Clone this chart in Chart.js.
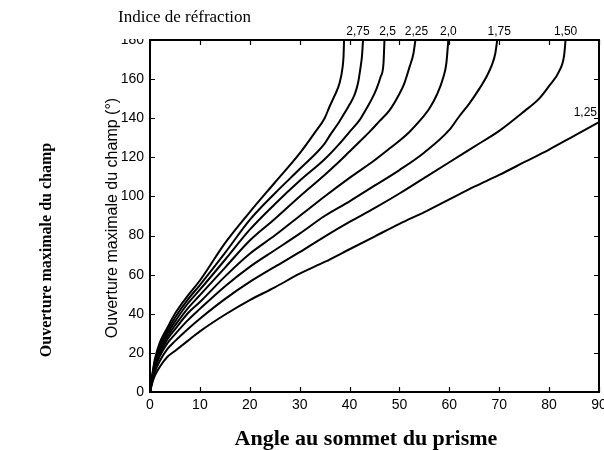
<!DOCTYPE html>
<html>
<head>
<meta charset="utf-8">
<script src="https://cdn.jsdelivr.net/npm/chart.js@4.4.1/dist/chart.umd.min.js"></script>
<style>
  html, body { margin: 0; padding: 0; background: #fff; }
</style>
</head>
<body>
<canvas id="chart" width="604" height="450"></canvas>
<script>
// ===== 数据：各折射率曲线 [顶角(°), 最大视场(°)] =====
const curveN300 = [[0,0],[0.5,9.5],[1,17],[2,25.5],[3.5,33],[5,40],[7.5,49],[10,57],[15,76],[20,92],[25,107],[30,122],[33,132.5],[35,140],[36,146],[37,151.5],[38,158],[38.6,166],[38.8,172],[38.9,180]];
const curveN275 = [[0,0],[0.5,9],[1,16],[2,24],[3.5,31.5],[5,38],[7.5,47],[10,54.7],[15,71],[20,88],[25,101.5],[30,114],[35,127],[36,131],[37.5,136.5],[38,138.5],[40,147],[41,152],[41.7,158],[42.2,166],[42.5,172],[42.7,180]];
const curveN250 = [[0,0],[0.5,8.5],[1,15],[2,22.5],[3.5,30],[5,36],[7.5,45],[10,52.3],[15,67.5],[20,83],[25,96],[30,108],[35,119],[38,127],[40,133],[42,139],[43.4,145],[44.5,150],[45.4,155],[46.2,161],[46.8,168],[47,180]];
const curveN225 = [[0,0],[0.5,8],[1,14],[2,21],[3.5,28.5],[5,34],[7.5,42.5],[10,49.5],[15,63.5],[20,77.5],[25,88.5],[30,100],[35,111],[38,118],[40,123],[42,128],[44,133],[46,138.5],[48,144],[50,152.5],[51,158],[52,166],[52.8,173],[53.2,180]];
const curveN200 = [[0,0],[0.5,7.5],[1,13],[2,20],[3.5,27],[5,32],[7.5,40],[10,46],[15,59],[20,70.7],[25,80],[30,90],[35,100],[40,109.5],[45,118.5],[48,124.5],[50,128.5],[52,133],[54,138.5],[56,145],[57.5,152],[58.8,161],[59.4,168],[59.8,180]];
const curveN175 = [[0,0],[0.5,7],[1,12],[2,18.5],[3.5,25],[5,29.5],[7.5,36.5],[10,42.5],[15,54],[20,64],[25,72.5],[30,81],[35,90],[40,97.5],[45,105.5],[50,113.5],[55,122.5],[60,134],[62,141],[64,147.5],[66,155],[67.5,161.5],[68.5,167],[69.2,173],[69.6,180]];
const curveN150 = [[0,0],[0.5,6],[1,10.5],[2,16],[3.5,22],[5,26],[7.5,32],[10,37.5],[15,47.5],[20,56.3],[25,64],[30,71.5],[35,79.5],[40,87],[45,94],[50,101.5],[55,109.5],[60,117.5],[65,125.5],[70,133.5],[75,143.5],[78,150],[80,156.5],[82,164],[83,172],[83.3,180]];
const curveN125 = [[0,0],[0.5,5],[1,8.5],[2,13],[3.5,18],[5,21],[7.5,26],[10,31],[15,39.5],[20,47],[25,53.5],[30,60.5],[35,66.5],[40,73],[45,79.5],[50,86],[55,92],[60,98.5],[65,105],[70,111],[75,117.5],[80,124],[85,131],[90,138]];

const curves = [curveN300, curveN275, curveN250, curveN225, curveN200, curveN175, curveN150, curveN125];
const curveLabels = ['', '2,75', '2,5', '2,25', '2,0', '1,75', '1,50', '1,25'];

const X_TICKS = [0, 10, 20, 30, 40, 50, 60, 70, 80, 90];
const Y_TICKS = [0, 20, 40, 60, 80, 100, 120, 140, 160, 180];

// 顶部标注的水平微调（像素），避免 2,75 / 2,5 相互重叠
const LABEL_DX = [0, -5, 3, 1, 0, 2, 0, 0];

const SANS = "'Liberation Sans', Arial, sans-serif";
const SERIF = "'Liberation Serif', 'Times New Roman', serif";

// 边框、朝内刻度、曲线标注与标题
const decorPlugin = {
    id: 'decor',
    afterDraw(chart) {
        const { ctx, chartArea: a, scales: { x, y } } = chart;
        ctx.save();
        // 遮住 180 标签上半部分（原图被裁切）
        ctx.fillStyle = '#fff';
        ctx.fillRect(110, 24, 38, 15);

        ctx.strokeStyle = '#000';
        ctx.lineWidth = 2;
        ctx.strokeRect(a.left, a.top, a.right - a.left, a.bottom - a.top);

        ctx.lineWidth = 1.2;
        ctx.beginPath();
        X_TICKS.forEach(v => {
            const px = Math.round(x.getPixelForValue(v)) + 0.5;
            ctx.moveTo(px, a.bottom); ctx.lineTo(px, a.bottom - 5);
            ctx.moveTo(px, a.top); ctx.lineTo(px, a.top + 5);
        });
        Y_TICKS.forEach(v => {
            const py = Math.round(y.getPixelForValue(v)) + 0.5;
            ctx.moveTo(a.left, py); ctx.lineTo(a.left + 5, py);
            ctx.moveTo(a.right, py); ctx.lineTo(a.right - 5, py);
        });
        ctx.stroke();

        // 曲线末端标注
        ctx.fillStyle = '#000';
        ctx.font = '12px ' + SANS;
        curveLabels.forEach((txt, i) => {
            if (!txt) return;
            const pts = chart.getDatasetMeta(i).data;
            const last = pts[pts.length - 1];
            if (last.y <= a.top + 1) {
                ctx.textAlign = 'center';
                ctx.textBaseline = 'middle';
                ctx.fillText(txt, last.x + LABEL_DX[i], a.top - 8);
            } else {
                ctx.textAlign = 'right';
                ctx.textBaseline = 'bottom';
                ctx.fillText(txt, last.x - 2, last.y - 3);
            }
        });

        // 标题
        ctx.textAlign = 'left';
        ctx.textBaseline = 'alphabetic';
        ctx.font = '17px ' + SERIF;
        ctx.fillText('Indice de réfraction', 118, 22);

        ctx.textAlign = 'center';
        ctx.font = 'bold 22px ' + SERIF;
        ctx.fillText('Angle au sommet du prisme', 366, 445);

        ctx.save();
        ctx.translate(51, 250);
        ctx.rotate(-Math.PI / 2);
        ctx.font = 'bold 16px ' + SERIF;
        ctx.fillText('Ouverture maximale du champ', 0, 0);
        ctx.restore();

        ctx.save();
        ctx.translate(117, 218);
        ctx.rotate(-Math.PI / 2);
        ctx.font = '16px ' + SANS;
        ctx.fillText('Ouverture maximale du champ (°)', 0, 0);
        ctx.restore();

        ctx.restore();
    }
};

new Chart(document.getElementById('chart'), {
    type: 'line',
    data: {
        datasets: curves.map((c, i) => ({
            label: curveLabels[i] || '3,0',
            data: c.map(p => ({ x: p[0], y: p[1] })),
            borderColor: '#000',
            borderWidth: 2,
            pointRadius: 0,
            cubicInterpolationMode: 'monotone',
            fill: false
        }))
    },
    options: {
        responsive: false,
        animation: false,
        devicePixelRatio: 1,
        layout: { padding: { left: 0, right: 5, top: 40, bottom: 0 } },
        plugins: {
            legend: { display: false },
            tooltip: { enabled: false }
        },
        scales: {
            x: {
                type: 'linear',
                min: 0, max: 90,
                afterBuildTicks: s => { s.ticks = X_TICKS.map(v => ({ value: v })); },
                afterFit: s => { s.height = 58; s.paddingLeft = 0; s.paddingRight = 0; },
                grid: { display: false, drawTicks: false, tickLength: 0 },
                border: { display: false },
                ticks: { color: '#000', font: { family: SANS, size: 14 }, padding: 5, maxRotation: 0 }
            },
            y: {
                type: 'linear',
                min: 0, max: 180,
                afterBuildTicks: s => { s.ticks = Y_TICKS.map(v => ({ value: v })); },
                afterFit: s => { s.width = 150; },
                grid: { display: false, drawTicks: false, tickLength: 0 },
                border: { display: false },
                ticks: { color: '#000', font: { family: SANS, size: 14 }, padding: 6 }
            }
        }
    },
    plugins: [decorPlugin]
});
</script>
</body>
</html>
